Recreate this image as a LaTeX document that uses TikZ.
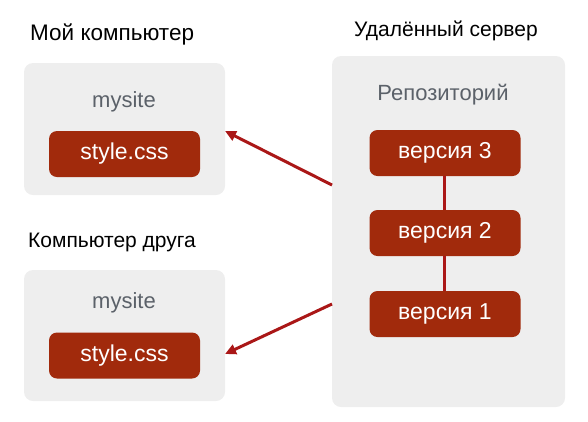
\documentclass[tikz,border=0pt]{standalone}
\usepackage{fontspec}
\setmainfont{Liberation Sans}
\usetikzlibrary{arrows.meta}
\definecolor{boxgrey}{HTML}{EEEEEE}
\definecolor{redbox}{HTML}{A12A0C}
\definecolor{linered}{HTML}{AA1717}
\definecolor{txtgrey}{HTML}{5B6169}
\tikzset{
  panel/.style={fill=boxgrey, rounded corners=9pt, draw=none},
  item/.style={fill=redbox, rounded corners=8pt, text=white, font=\fontsize{23}{26}\selectfont, minimum width=151pt, minimum height=46pt, inner sep=0pt},
  title/.style={font=\fontsize{21}{24}\selectfont, text=black, inner sep=0pt},
  sub/.style={font=\fontsize{22}{25}\selectfont, text=txtgrey, inner sep=0pt},
  conn/.style={draw=linered, line width=3pt},
  arr/.style={conn, -{Triangle[length=11pt,width=10pt]}, shorten >=0pt}
}
\begin{document}
\begin{tikzpicture}[x=1pt,y=-1pt]
\useasboundingbox (0,0) rectangle (588,421);
% panels
\path[panel] (24,63) rectangle (225,195);
\path[panel] (24,270) rectangle (225,401);
\path[panel] (332,56) rectangle (565,407);
% titles
\node[title, anchor=west, font=\fontsize{22.5}{25}\selectfont] (t1) at (30,34) {Мой компьютер};
\node[title, anchor=west] (t2) at (28,242) {Компьютер друга};
\node[title] (t3) at (446,31) {Удалённый сервер};
\node[sub] (m1) at (124,102) {mysite};
\node[sub] (m2) at (124,303) {mysite};
\node[sub] (rep) at (443,95) {Репозиторий};
% items
\node[item] (s1) at (124.5,154) {style.css};
\node[item] (s2) at (124.5,355.5) {style.css};
\node[item] (v3) at (445,153) {версия 3};
\node[item] (v2) at (445,233) {версия 2};
\node[item] (v1) at (445,314) {версия 1};
% connectors
\coordinate (a1s) at (332,185);
\coordinate (a1e) at (225,131);
\coordinate (a2s) at (332,304);
\coordinate (a2e) at (225,354);
\draw[conn] (v3.south -| 444,0) -- (v2.north -| 444,0);
\draw[conn] (v2.south -| 444,0) -- (v1.north -| 444,0);
\draw[arr] (a1s) -- (a1e);
\draw[arr] (a2s) -- (a2e);
\end{tikzpicture}
\end{document}
